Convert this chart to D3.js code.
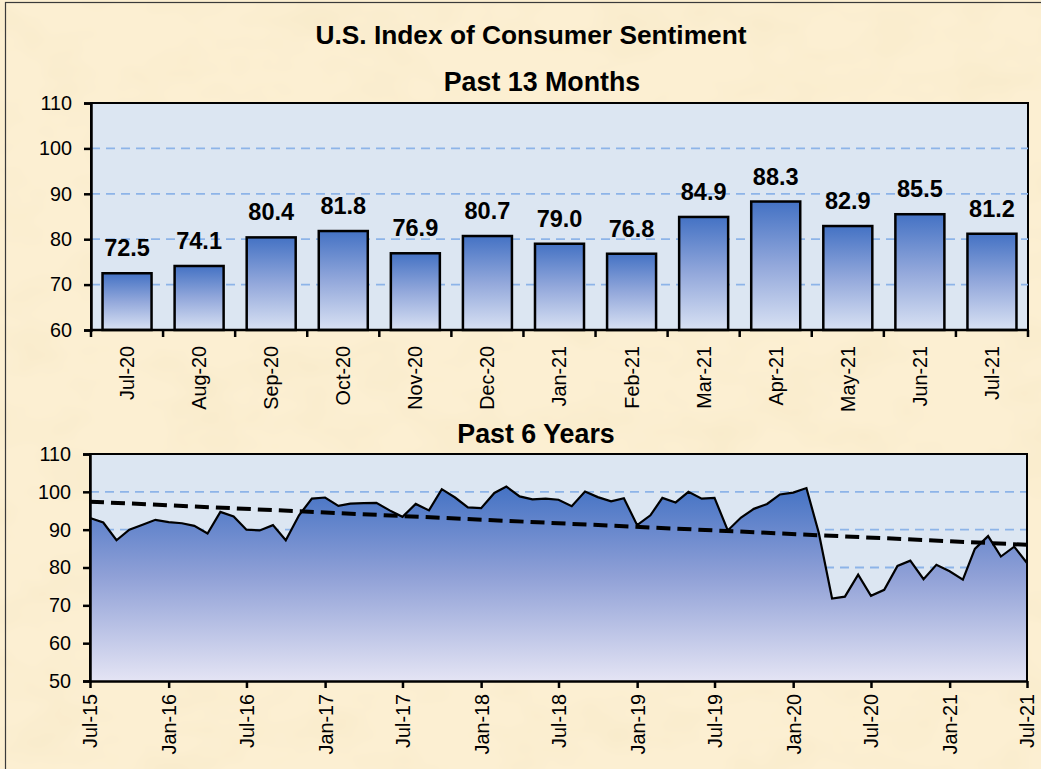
<!DOCTYPE html>
<html>
<head>
<meta charset="utf-8">
<script src="https://cdn.jsdelivr.net/npm/d3@7"></script>
<style>
  body { margin: 0; background: #fcefd2; }
  svg { display: block; font-family: "Liberation Sans", Arial, sans-serif; }
</style>
</head>
<body>
<div id="my_chart"></div>
<script>
// ---- data ----
var months13 = ["Jul-20", "Aug-20", "Sep-20", "Oct-20", "Nov-20", "Dec-20", "Jan-21",
                "Feb-21", "Mar-21", "Apr-21", "May-21", "Jun-21", "Jul-21"];
var values13 = [72.5, 74.1, 80.4, 81.8, 76.9, 80.7, 79.0, 76.8, 84.9, 88.3, 82.9, 85.5, 81.2];

// monthly index, Jul-15 .. Jul-21
var firstMonth = "2015-07-01";
var values6y = [
  93.1, 91.9, 87.2, 90.0, 91.3, 92.6,
  92.0, 91.7, 91.0, 89.0, 94.7, 93.5, 90.0, 89.8, 91.2, 87.2, 93.8, 98.2,
  98.5, 96.3, 96.9, 97.0, 97.1, 95.1, 93.4, 96.8, 95.1, 100.7, 98.5, 95.9,
  95.7, 99.7, 101.4, 98.8, 98.0, 98.2, 97.9, 96.2, 100.1, 98.6, 97.5, 98.3,
  91.2, 93.8, 98.4, 97.2, 100.0, 98.2, 98.4, 89.8, 93.2, 95.5, 96.8, 99.3,
  99.8, 101.0, 89.1, 71.8, 72.3, 78.1, 72.5, 74.1, 80.4, 81.8, 76.9, 80.7,
  79.0, 76.8, 84.9, 88.3, 82.9, 85.5, 81.2
];
// linear trend line, value at first and last month
var trendEnds = [97.4, 86.0];

var yTicksTop = [60, 70, 80, 90, 100, 110];
var yTicksBottom = [50, 60, 70, 80, 90, 100, 110];

var W = 1041, H = 769;

var svg = d3.select("#my_chart")
  .append("svg")
    .attr("width", W)
    .attr("height", H);

var defs = svg.append("defs");

// parchment texture
var paper = defs.append("filter").attr("id", "paper")
  .attr("x", 0).attr("y", 0).attr("width", "100%").attr("height", "100%");
paper.append("feTurbulence")
  .attr("type", "fractalNoise").attr("baseFrequency", "0.012 0.02")
  .attr("numOctaves", 3).attr("seed", 7).attr("result", "noise");
paper.append("feColorMatrix").attr("in", "noise").attr("type", "matrix")
  .attr("values", "0 0 0 0 0.93  0 0 0 0 0.82  0 0 0 0 0.58  0 0 0 -1.5 0.85");

var barGrad = defs.append("linearGradient").attr("id", "barGrad")
  .attr("x1", 0).attr("y1", 0).attr("x2", 0).attr("y2", 1);
barGrad.append("stop").attr("offset", "0%").attr("stop-color", "#4472c4");
barGrad.append("stop").attr("offset", "50%").attr("stop-color", "#93a8db");
barGrad.append("stop").attr("offset", "100%").attr("stop-color", "#d8e1f3");

var areaGrad = defs.append("linearGradient").attr("id", "areaGrad")
  .attr("x1", 0).attr("y1", 0).attr("x2", 0).attr("y2", 1);
areaGrad.append("stop").attr("offset", "0%").attr("stop-color", "#4472c4");
areaGrad.append("stop").attr("offset", "45%").attr("stop-color", "#8e9fd6");
areaGrad.append("stop").attr("offset", "100%").attr("stop-color", "#e4e4f4");

// background
svg.append("rect").attr("width", W).attr("height", H).attr("fill", "#fcefd2");
svg.append("rect").attr("width", W).attr("height", H).attr("filter", "url(#paper)");
svg.append("rect")
  .attr("x", 5.5).attr("y", 2.5).attr("width", W).attr("height", H)
  .attr("fill", "none").attr("stroke", "#3a3a3a").attr("stroke-width", 1.2);

// titles
svg.append("text").attr("x", 531).attr("y", 43.5)
  .attr("text-anchor", "middle").style("font-size", "26.3px").style("font-weight", "bold")
  .text("U.S. Index of Consumer Sentiment");
svg.append("text").attr("x", 542).attr("y", 90.5)
  .attr("text-anchor", "middle").style("font-size", "26.8px").style("font-weight", "bold")
  .text("Past 13 Months");
svg.append("text").attr("x", 536).attr("y", 442.5)
  .attr("text-anchor", "middle").style("font-size", "26.8px").style("font-weight", "bold")
  .text("Past 6 Years");

function styleAxis(g) {
  g.select(".domain").attr("stroke", "#000").attr("stroke-width", 2.5);
  g.selectAll(".tick line").attr("stroke", "#000").attr("stroke-width", 2.5);
  g.selectAll(".tick text").style("font-size", "19.8px").attr("fill", "#000");
}

function grid(g, y, ticks, xa, xb) {
  g.selectAll("line.grid")
    .data(ticks)
    .enter().append("line")
      .attr("x1", xa).attr("x2", xb)
      .attr("y1", function(d) { return y(d); })
      .attr("y2", function(d) { return y(d); })
      .attr("stroke", "#8db4e8").attr("stroke-width", 1.8)
      .attr("stroke-dasharray", "9,6");
}

// ---- top chart: past 13 months ----
var boxA = {left: 91, right: 1028, top: 103, bottom: 330};

var x1 = d3.scaleBand()
  .domain(months13)
  .range([boxA.left, boxA.right])
  .paddingInner(0.32).paddingOuter(0.16);

var y1 = d3.scaleLinear()
  .domain([60, 110])
  .range([boxA.bottom, boxA.top]);

var gTop = svg.append("g");
gTop.append("rect")
  .attr("x", boxA.left).attr("y", boxA.top)
  .attr("width", boxA.right - boxA.left).attr("height", boxA.bottom - boxA.top)
  .attr("fill", "#dce6f2").attr("stroke", "#000").attr("stroke-width", 2);

grid(gTop, y1, yTicksTop.slice(1, -1), boxA.left, boxA.right);

gTop.selectAll("rect.bar")
  .data(values13)
  .enter().append("rect")
    .attr("class", "bar")
    .attr("x", function(d, i) { return x1(months13[i]); })
    .attr("y", function(d) { return y1(d); })
    .attr("width", x1.bandwidth())
    .attr("height", function(d) { return y1(60) - y1(d); })
    .attr("fill", "url(#barGrad)")
    .attr("stroke", "#000").attr("stroke-width", 2.5);

gTop.selectAll("text.lbl")
  .data(values13)
  .enter().append("text")
    .attr("class", "lbl")
    .attr("x", function(d, i) { return x1(months13[i]) + x1.bandwidth() / 2; })
    .attr("y", function(d) { return y1(d) - 17; })
    .attr("text-anchor", "middle")
    .style("font-size", "23.5px").style("font-weight", "bold")
    .text(function(d) { return d.toFixed(1); });

var yAxisTop = gTop.append("g")
  .attr("transform", "translate(" + boxA.left + ",0)")
  .call(d3.axisLeft(y1).tickValues(yTicksTop).tickSize(7).tickPadding(12));
styleAxis(yAxisTop);

// category ticks sit on band boundaries
var bounds = months13.map(function(m) { return x1(m) - x1.step() * x1.paddingInner() / 2; });
bounds.push(boxA.right);
var xAxisTop = gTop.append("g");
xAxisTop.append("line")
  .attr("x1", boxA.left).attr("x2", boxA.right)
  .attr("y1", boxA.bottom).attr("y2", boxA.bottom)
  .attr("stroke", "#000").attr("stroke-width", 2.5);
xAxisTop.selectAll("line.tk")
  .data(bounds)
  .enter().append("line")
    .attr("x1", function(d) { return d; }).attr("x2", function(d) { return d; })
    .attr("y1", boxA.bottom).attr("y2", boxA.bottom + 7)
    .attr("stroke", "#000").attr("stroke-width", 2.5);
xAxisTop.selectAll("text")
  .data(months13)
  .enter().append("text")
    .attr("transform", function(d) {
      return "translate(" + (x1(d) + x1.bandwidth() / 2) + "," + (boxA.bottom + 16) + ")rotate(-90)";
    })
    .attr("dy", "0.35em")
    .style("text-anchor", "end").style("font-size", "19.8px")
    .text(function(d) { return d; });

// ---- bottom chart: past 6 years ----
var boxB = {left: 90, right: 1027, top: 454, bottom: 681};
var t0 = d3.timeParse("%Y-%m-%d")(firstMonth);
var series = values6y.map(function(v, i) { return {date: d3.timeMonth.offset(t0, i), value: v}; });

var x2 = d3.scaleTime()
  .domain(d3.extent(series, function(d) { return d.date; }))
  .range([boxB.left, boxB.right]);

var y2 = d3.scaleLinear()
  .domain([50, 110])
  .range([boxB.bottom, boxB.top]);

var gBot = svg.append("g");
gBot.append("rect")
  .attr("x", boxB.left).attr("y", boxB.top)
  .attr("width", boxB.right - boxB.left).attr("height", boxB.bottom - boxB.top)
  .attr("fill", "#dce6f2").attr("stroke", "#000").attr("stroke-width", 2);

grid(gBot, y2, yTicksBottom.slice(1, -1), boxB.left, boxB.right);

gBot.append("path")
  .datum(series)
  .attr("fill", "url(#areaGrad)")
  .attr("d", d3.area()
    .x(function(d) { return x2(d.date); })
    .y0(y2(50))
    .y1(function(d) { return y2(d.value); }));

gBot.append("path")
  .datum(series)
  .attr("fill", "none").attr("stroke", "#000").attr("stroke-width", 2.2)
  .attr("stroke-linejoin", "miter")
  .attr("d", d3.line()
    .x(function(d) { return x2(d.date); })
    .y(function(d) { return y2(d.value); }));

var trend = [
  {date: series[0].date, value: trendEnds[0]},
  {date: series[series.length - 1].date, value: trendEnds[1]}
];
gBot.append("path")
  .datum(trend)
  .attr("fill", "none").attr("stroke", "#000").attr("stroke-width", 4)
  .attr("stroke-dasharray", "14,7")
  .attr("d", d3.line()
    .x(function(d) { return x2(d.date); })
    .y(function(d) { return y2(d.value); }));

// right border over the area
gBot.append("line")
  .attr("x1", boxB.right).attr("x2", boxB.right)
  .attr("y1", boxB.top).attr("y2", boxB.bottom)
  .attr("stroke", "#000").attr("stroke-width", 2);

var yAxisBot = gBot.append("g")
  .attr("transform", "translate(" + boxB.left + ",0)")
  .call(d3.axisLeft(y2).tickValues(yTicksBottom).tickSize(7).tickPadding(12));
styleAxis(yAxisBot);

var xAxisBot = gBot.append("g")
  .attr("transform", "translate(0," + boxB.bottom + ")")
  .call(d3.axisBottom(x2)
    .ticks(d3.timeMonth.every(6))
    .tickFormat(d3.timeFormat("%b-%y"))
    .tickSize(7).tickSizeOuter(0));
styleAxis(xAxisBot);
xAxisBot.selectAll(".tick text")
  .attr("transform", "rotate(-90)")
  .attr("x", -13).attr("y", 0).attr("dy", "0.35em")
  .style("text-anchor", "end");
</script>
</body>
</html>
